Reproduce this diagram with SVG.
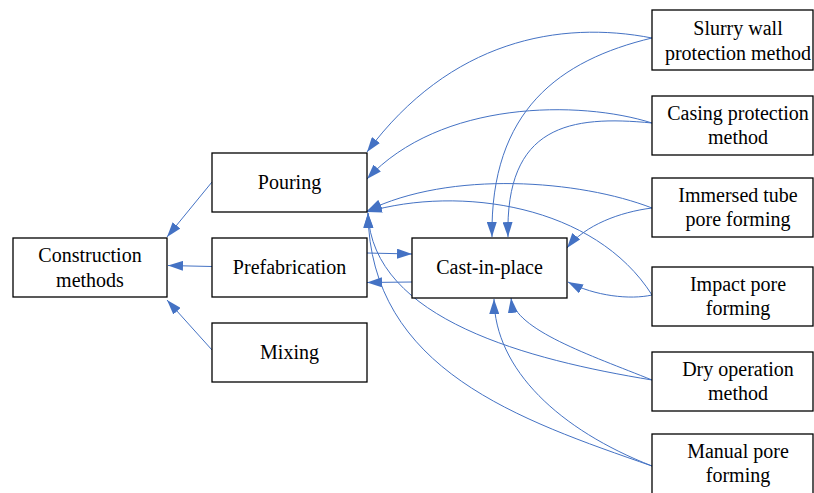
<svg xmlns="http://www.w3.org/2000/svg" width="814" height="493" viewBox="0 0 814 493">
<style>
.box{fill:#fff;stroke:#000;stroke-width:1.3}
.t{font-family:'Liberation Serif','Times New Roman',serif;font-size:20px;fill:#000;text-anchor:middle}
.c{fill:none;stroke:#4472C4;stroke-width:1}
</style>
<defs>
<marker id="ah" markerUnits="userSpaceOnUse" markerWidth="15" markerHeight="10" refX="15" refY="5" orient="auto">
<path d="M0,0 L15,5 L0,10 z" fill="#4472C4"/>
</marker>
</defs>
<rect width="814" height="493" fill="#fff"/>
<g id="connectors">
<path class="c" marker-end="url(#ah)" d="M212,182 L167,237"/>
<path class="c" marker-end="url(#ah)" d="M212,266.5 L168,265.5"/>
<path class="c" marker-end="url(#ah)" d="M212,350 L167,300"/>
<path class="c" marker-end="url(#ah)" d="M367,253 L412,254"/>
<path class="c" marker-end="url(#ah)" d="M412,282 L367,282.5"/>
<path class="c" marker-end="url(#ah)" d="M652,38 C560,20 450,40 367,152"/>
<path class="c" marker-end="url(#ah)" d="M652,38 C560,60 490,110 492,237"/>
<path class="c" marker-end="url(#ah)" d="M652,123 C580,100 440,100 367,179"/>
<path class="c" marker-end="url(#ah)" d="M652,123 C570,115 505,125 508,237"/>
<path class="c" marker-end="url(#ah)" d="M652,208 C580,180 450,170 367,211"/>
<path class="c" marker-end="url(#ah)" d="M652,208 C620,212 585,225 567,248"/>
<path class="c" marker-end="url(#ah)" d="M652,295 C595,205 460,185 367,212"/>
<path class="c" marker-end="url(#ah)" d="M652,295 C630,300 595,296 568,282"/>
<path class="c" marker-end="url(#ah)" d="M652,380 C530,360 372,320 368,213"/>
<path class="c" marker-end="url(#ah)" d="M652,380 C590,355 515,330 511,298"/>
<path class="c" marker-end="url(#ah)" d="M652,466 C520,420 370,370 368,213"/>
<path class="c" marker-end="url(#ah)" d="M652,466 C560,430 495,370 494,299"/>
</g>
<g id="construction"><rect class="box" x="13" y="238" width="154" height="59"/><text class="t" x="90" y="262">Construction</text><text class="t" x="90" y="287">methods</text></g>
<g id="pouring"><rect class="box" x="212" y="153" width="155" height="59"/><text class="t" x="289.5" y="189">Pouring</text></g>
<g id="prefabrication"><rect class="box" x="212" y="238" width="155" height="59"/><text class="t" x="289.5" y="274">Prefabrication</text></g>
<g id="mixing"><rect class="box" x="212" y="323" width="155" height="59"/><text class="t" x="289.5" y="359">Mixing</text></g>
<g id="cast"><rect class="box" x="412" y="238" width="155" height="60"/><text class="t" x="489.5" y="274">Cast-in-place</text></g>
<g id="slurry"><rect class="box" x="652" y="10" width="161" height="60"/><text class="t" x="738" y="35">Slurry wall</text><text class="t" x="738" y="60">protection method</text></g>
<g id="casing"><rect class="box" x="652" y="96" width="161" height="59"/><text class="t" x="738" y="120">Casing protection</text><text class="t" x="738" y="144">method</text></g>
<g id="immersed"><rect class="box" x="652" y="178" width="161" height="59"/><text class="t" x="738" y="202">Immersed tube</text><text class="t" x="738" y="226">pore forming</text></g>
<g id="impact"><rect class="box" x="652" y="267" width="161" height="59"/><text class="t" x="738" y="291">Impact pore</text><text class="t" x="738" y="315">forming</text></g>
<g id="dry"><rect class="box" x="652" y="352" width="161" height="59"/><text class="t" x="738" y="376">Dry operation</text><text class="t" x="738" y="400">method</text></g>
<g id="manual"><rect class="box" x="652" y="434" width="161" height="66"/><text class="t" x="738" y="458">Manual pore</text><text class="t" x="738" y="482">forming</text></g>
</svg>
